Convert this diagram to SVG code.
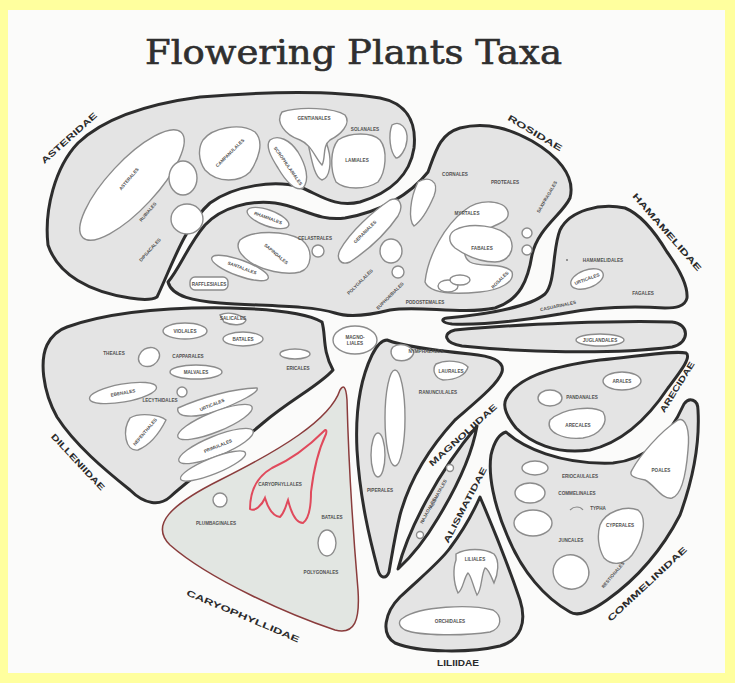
<svg xmlns="http://www.w3.org/2000/svg" width="735" height="683" viewBox="0 0 735 683">
<style>
.outer{fill:#e4e4e4;stroke:#2d2d2d;stroke-width:3;stroke-linejoin:round}
.inner{fill:#ffffff;stroke:#8c8c8c;stroke-width:1.4}
.sub{font-family:"Liberation Sans",Arial,sans-serif;font-weight:bold;font-size:8.5px;fill:#2a2a2a;text-anchor:middle;dominant-baseline:central}
.ord{font-family:"Liberation Sans",Arial,sans-serif;font-weight:bold;font-size:4.6px;fill:#505050;text-anchor:middle;dominant-baseline:central}
.title{font-family:"DejaVu Serif","Liberation Serif",serif;font-size:33px;fill:#2f2f2f;stroke:#2f2f2f;stroke-width:0.6}
</style>
<rect x="0" y="0" width="735" height="683" fill="#ffff9e"/>
<rect x="8" y="10" width="717" height="663" fill="#fbfbfa"/>
<text class="title" x="145" y="64" textLength="417" lengthAdjust="spacingAndGlyphs">Flowering Plants Taxa</text>

<g id="asteridae">
<path class="outer" d="M157,297 C170,270 185,225 210,203 C235,185 275,180 300,187 C320,195 335,208 360,202 C390,193 410,175 414,148 C417,120 405,103 380,98 C330,90 260,92 200,97 C140,105 100,122 78,143 C55,167 44,210 48,245 C58,275 90,292 130,298 C142,300 152,300 157,297 Z"/>
<ellipse class="inner" cx="132" cy="185" rx="72" ry="24" transform="rotate(-47 132 185)"/>
<ellipse class="inner" cx="183" cy="178" rx="14" ry="17"/>
<ellipse class="inner" cx="187" cy="219" rx="16" ry="15"/>
<path class="inner" d="M203,140 C212,128 240,122 255,132 C265,142 258,160 250,172 C240,182 218,184 205,170 C198,160 198,148 203,140 Z"/>
<path class="inner" d="M270,140 C278,134 290,140 298,152 C306,165 310,180 303,188 C295,192 285,180 278,168 C271,157 265,146 270,140 Z"/>
<path class="inner" d="M309,130 C316,126 324,134 328,148 C332,162 330,178 322,180 C315,178 312,162 309,148 C307,140 306,133 309,130 Z"/>
<path class="inner" d="M282,112 C300,106 335,108 345,115 C352,124 340,135 330,140 C322,146 326,158 322,165 C315,158 312,145 300,140 C285,135 275,122 282,112 Z"/>
<path class="inner" d="M338,140 C350,132 372,132 380,140 C388,150 386,172 378,182 C366,190 345,190 336,182 C330,170 330,150 338,140 Z"/>
<path class="inner" d="M392,125 C400,120 408,128 407,140 C406,150 400,158 396,158 C390,152 388,135 392,125 Z"/>
<text class="ord" transform="translate(129,179) rotate(-50)">ASTERALES</text>
<text class="ord" transform="translate(148,212) rotate(-50)">RUBIALES</text>
<text class="ord" transform="translate(150,250) rotate(-48)">DIPSACALES</text>
<text class="ord" transform="translate(230,153) rotate(-45)">CAMPANULALES</text>
<text class="ord" transform="translate(288,166) rotate(55)">SCROPHULARIALES</text>
<text class="ord" transform="translate(314,118)">GENTIANALES</text>
<text class="ord" transform="translate(365,129)">SOLANALES</text>
<text class="ord" transform="translate(357,160)">LAMIALES</text>
<text class="sub" transform="translate(69,138) rotate(-42)" textLength="72" lengthAdjust="spacingAndGlyphs">ASTERIDAE</text>
</g>

<g id="rosidae">
<path class="outer" d="M168,282 C180,268 188,245 205,225 C222,207 250,200 275,203 C300,206 318,222 345,218 C380,212 410,195 428,172 C436,150 440,134 460,128 C488,121 512,130 532,141 C556,155 576,175 570,198 C562,215 538,228 532,255 C528,280 520,300 495,308 C460,315 420,305 390,310 C370,315 350,318 335,313 C310,305 260,306 220,303 C195,301 172,297 168,282 Z"/>
<rect class="inner" x="190" y="277" width="38" height="13" rx="5"/>
<ellipse class="inner" cx="240" cy="268" rx="30" ry="8" transform="rotate(20 240 268)"/>
<ellipse class="inner" cx="268" cy="218" rx="22" ry="8" transform="rotate(20 268 218)"/>
<path class="inner" d="M240,240 C252,230 285,230 302,240 C314,250 312,268 300,272 C285,276 262,270 250,262 C240,255 235,247 240,240 Z"/>
<circle class="inner" cx="318" cy="251" r="6"/>
<path class="inner" d="M340,250 C350,232 372,212 390,200 C400,196 404,206 398,216 C385,235 365,252 350,262 C340,266 336,258 340,250 Z"/>
<ellipse class="inner" cx="391" cy="251" rx="11" ry="12"/>
<circle class="inner" cx="398" cy="272" r="6"/>
<path class="inner" d="M418,182 C428,176 440,180 434,196 C428,210 420,222 414,226 C408,220 410,198 418,182 Z"/>
<path class="inner" d="M425,282 C428,255 445,225 465,210 C480,198 505,200 508,212 C510,222 495,225 480,232 C465,240 460,255 470,262 C480,268 505,262 512,272 C515,282 500,290 480,292 C460,294 430,295 425,282 Z"/>
<path class="inner" d="M455,230 C470,222 500,225 510,238 C516,250 508,262 495,262 C480,262 465,255 455,248 C448,242 448,234 455,230 Z"/>
<ellipse class="inner" cx="448" cy="286" rx="10" ry="6"/>
<ellipse class="inner" cx="460" cy="280" rx="10" ry="5"/>
<circle class="inner" cx="527" cy="233" r="5"/>
<circle class="inner" cx="527" cy="250" r="5"/>
<text class="ord" transform="translate(209,284)">RAFFLESIALES</text>
<text class="ord" transform="translate(242,268) rotate(20)">SANTALALES</text>
<text class="ord" transform="translate(268,218) rotate(20)">RHAMNALES</text>
<text class="ord" transform="translate(276,254) rotate(40)">SAPINDALES</text>
<text class="ord" transform="translate(315,238)">CELASTRALES</text>
<text class="ord" transform="translate(365,232) rotate(-45)">GERANIALES</text>
<text class="ord" transform="translate(360,282) rotate(-45)">POLYGALALES</text>
<text class="ord" transform="translate(390,296) rotate(-45)">EUPHORBIALES</text>
<text class="ord" transform="translate(455,174)">CORNALES</text>
<text class="ord" transform="translate(505,182)">PROTEALES</text>
<text class="ord" transform="translate(467,213)">MYRTALES</text>
<text class="ord" transform="translate(482,248)">FABALES</text>
<text class="ord" transform="translate(425,302)">PODOSTEMALES</text>
<text class="ord" transform="translate(500,280) rotate(-45)">ROSALES</text>
<text class="ord" transform="translate(547,197) rotate(-60)">SAXIFRAGALES</text>
<text class="sub" transform="translate(535,133) rotate(31)" textLength="62" lengthAdjust="spacingAndGlyphs">ROSIDAE</text>
</g>

<g id="hamamelidae">
<path class="outer" d="M447,318 C480,315 528,308 545,294 C556,282 552,250 560,230 C570,210 600,203 625,208 C640,214 655,232 667,252 C680,270 688,285 687,298 C685,307 675,308 665,308 C630,306 590,308 560,314 C520,321 480,325 452,324 C442,323 440,319 447,318 Z"/>
<path class="outer" d="M455,330 C520,324 620,320 672,322 C690,324 690,343 672,347 C610,355 520,352 462,346 C444,343 442,333 455,330 Z"/>
<ellipse class="inner" cx="587" cy="279" rx="17" ry="9" transform="rotate(-20 587 279)"/>
<circle cx="567" cy="260" r="1" fill="#777"/>
<ellipse class="inner" cx="600" cy="340" rx="24" ry="6"/>
<text class="ord" transform="translate(603,260)">HAMAMELIDALES</text>
<text class="ord" transform="translate(587,279) rotate(-20)">URTICALES</text>
<text class="ord" transform="translate(643,293)">FAGALES</text>
<text class="ord" transform="translate(558,306) rotate(-12)">CASUARINALES</text>
<text class="ord" transform="translate(600,340)">JUGLANDALES</text>
<text class="sub" transform="translate(667,232) rotate(49)" textLength="100" lengthAdjust="spacingAndGlyphs">HAMAMELIDAE</text>
</g>

<g id="dilleniidae">
<path class="outer" d="M67,327 C110,312 170,307 230,308 C270,309 305,312 322,322 C326,335 322,350 333,370 C320,385 290,400 263,423 C235,447 200,470 170,497 C160,506 145,505 130,490 C105,470 75,445 57,417 C42,390 40,360 47,345 C52,335 58,330 67,327 Z"/>
<ellipse class="inner" cx="185" cy="331" rx="22" ry="8"/>
<path class="inner" d="M220,315 C228,311 240,314 246,320 C244,326 232,326 224,322 Z"/>
<ellipse class="inner" cx="243" cy="339" rx="20" ry="7"/>
<ellipse class="inner" cx="149" cy="357" rx="11" ry="9" transform="rotate(-30 149 357)"/>
<ellipse class="inner" cx="196" cy="372" rx="26" ry="7"/>
<ellipse class="inner" cx="295" cy="354" rx="15" ry="5"/>
<ellipse class="inner" cx="123" cy="393" rx="34" ry="9" transform="rotate(-10 123 393)"/>
<circle class="inner" cx="182" cy="392" r="5"/>
<path class="inner" d="M178,408 C200,398 235,388 257,388 C260,392 240,402 215,412 C195,418 175,418 178,408 Z"/>
<ellipse class="inner" cx="215" cy="422" rx="40" ry="10" transform="rotate(-22 215 422)"/>
<ellipse class="inner" cx="216" cy="446" rx="40" ry="10" transform="rotate(-22 216 446)"/>
<ellipse class="inner" cx="213" cy="466" rx="35" ry="8" transform="rotate(-22 213 466)"/>
<path class="inner" d="M130,418 C140,412 160,415 166,420 C160,432 150,445 138,450 C125,452 122,430 130,418 Z"/>
<text class="ord" transform="translate(114,353)">THEALES</text>
<text class="ord" transform="translate(185,331)">VIOLALES</text>
<text class="ord" transform="translate(233,318)">SALICALES</text>
<text class="ord" transform="translate(243,339)">BATALES</text>
<text class="ord" transform="translate(188,356)">CAPPARALES</text>
<text class="ord" transform="translate(196,372)">MALVALES</text>
<text class="ord" transform="translate(298,368)">ERICALES</text>
<text class="ord" transform="translate(123,393) rotate(-10)">EBENALES</text>
<text class="ord" transform="translate(160,400)">LECYTHIDALES</text>
<text class="ord" transform="translate(212,405) rotate(-22)">URTICALES</text>
<text class="ord" transform="translate(218,446) rotate(-22)">PRIMULALES</text>
<text class="ord" transform="translate(145,432) rotate(-50)">NEPENTHALES</text>
<text class="sub" transform="translate(78,462) rotate(47)" textLength="74" lengthAdjust="spacingAndGlyphs">DILLENIIDAE</text>
</g>

<g id="hub">
<ellipse class="inner" cx="355" cy="340" rx="22" ry="14"/>
<text class="ord" x="355" y="337">MAGNO-</text>
<text class="ord" x="355" y="343">LIALES</text>
</g>

<g id="caryophyllidae">
<path d="M340,390 C330,420 280,450 220,480 C170,505 150,525 170,545 C210,580 290,615 335,630 C355,635 360,620 358,590 C352,520 348,440 347,400 C346,385 343,385 340,390 Z" fill="#e2e6e2" stroke="#8a3c3c" stroke-width="1.5"/>
<path d="M324,431 C310,445 290,460 272,468 C258,476 250,490 250,509 C255,512 262,505 265,498 C268,508 272,516 280,517 C285,512 286,505 288,500 C291,512 296,523 303,523 C310,518 311,505 311,492 C313,475 316,455 326,434 C327,430 326,429 324,431 Z" fill="none" stroke="#e04a5c" stroke-width="2"/>
<circle class="inner" cx="220" cy="500" r="7"/>
<ellipse class="inner" cx="327" cy="543" rx="9" ry="13"/>
<text class="ord" transform="translate(280,484)">CARYOPHYLLALES</text>
<text class="ord" transform="translate(216,523)">PLUMBAGINALES</text>
<text class="ord" transform="translate(332,517)">BATALES</text>
<text class="ord" transform="translate(321,572)">POLYGONALES</text>
<text class="sub" transform="translate(243,616) rotate(23)" textLength="122" lengthAdjust="spacingAndGlyphs">CARYOPHYLLIDAE</text>
</g>

<g id="magnoliidae">
<path class="outer" d="M387,340 C400,345 430,350 470,354 C490,356 505,360 502,372 C498,384 478,400 455,420 C432,445 410,478 400,515 C395,535 392,555 389,572 C386,580 380,578 378,570 C370,540 360,500 357,450 C355,410 360,380 372,355 C377,345 382,340 387,340 Z"/>
<ellipse class="inner" cx="395" cy="418" rx="10" ry="48"/>
<ellipse class="inner" cx="378" cy="455" rx="7" ry="22"/>
<path class="inner" d="M393,347 C400,342 410,345 414,352 C412,360 404,362 396,360 C390,356 390,350 393,347 Z"/>
<path class="inner" d="M436,364 C446,359 463,361 468,367 C466,375 456,380 443,380 C434,378 432,369 436,364 Z"/>
<text class="ord" transform="translate(426,351)">NYMPHAEALES</text>
<text class="ord" transform="translate(451,371)">LAURALES</text>
<text class="ord" transform="translate(438,392)">RANUNCULALES</text>
<text class="ord" transform="translate(380,490)">PIPERALES</text>
<text class="sub" transform="translate(463,435) rotate(-42)" textLength="88" lengthAdjust="spacingAndGlyphs">MAGNOLIIDAE</text>
</g>

<g id="alismatidae">
<path class="outer" d="M398,569 C408,530 438,472 477,426 C472,455 455,490 438,518 C425,540 410,558 398,569 Z"/>
<circle class="inner" cx="450" cy="468" r="3.5"/>
<circle class="inner" cx="420" cy="535" r="3.5"/>
<text class="ord" transform="translate(428,511) rotate(-62)">NAJADALES</text>
<text class="ord" transform="translate(438,494) rotate(-62)">ALISMATALES</text>
<text class="sub" transform="translate(465,505) rotate(-62.5)" textLength="84" lengthAdjust="spacingAndGlyphs">ALISMATIDAE</text>
</g>

<g id="liliidae">
<path class="outer" d="M480,497 C492,525 507,562 520,600 C527,622 521,640 500,646 C470,653 420,653 395,643 C380,634 385,612 400,597 C420,578 440,562 450,548 C462,532 472,515 480,497 Z"/>
<path class="inner" d="M456,554 C466,548 484,548 494,554 C500,561 498,574 494,583 C491,576 488,568 485,568 C481,575 482,590 477,595 C473,586 471,575 468,573 C464,577 463,590 458,593 C453,582 453,568 456,560 Z"/>
<path class="inner" d="M403,618 C420,606 470,604 493,610 C503,616 502,628 490,632 C465,636 420,636 405,630 C398,626 398,621 403,618 Z"/>
<text class="ord" x="475" y="559">LILIALES</text>
<text class="ord" x="450" y="621">ORCHIDALES</text>
<text class="sub" transform="translate(458,663)" textLength="42" lengthAdjust="spacingAndGlyphs">LILIIDAE</text>
</g>

<g id="arecidae">
<path class="outer" d="M506,399 C515,380 545,367 600,360 C640,356 675,350 686,353 C692,357 680,372 668,388 C650,415 625,442 590,450 C555,455 530,442 516,428 C508,418 502,407 506,399 Z"/>
<ellipse class="inner" cx="622" cy="381" rx="19" ry="9"/>
<ellipse class="inner" cx="550" cy="398" rx="12" ry="8"/>
<path class="inner" d="M550,420 C563,408 593,405 603,412 C609,422 601,435 583,438 C563,440 545,432 550,420 Z"/>
<text class="ord" x="622" y="381">ARALES</text>
<text class="ord" x="582" y="397">PANDANALES</text>
<text class="ord" x="578" y="425">ARECALES</text>
<text class="sub" transform="translate(677,387) rotate(-58)" textLength="58" lengthAdjust="spacingAndGlyphs">ARECIDAE</text>
</g>

<g id="commelinidae">
<path class="outer" d="M506,432 C522,447 560,465 613,463 C645,460 668,440 684,404 C689,397 698,399 698,410 C700,445 692,482 680,515 C662,550 638,578 607,600 C590,612 578,617 570,612 C545,598 522,572 507,535 C494,505 488,475 491,455 C494,442 499,434 506,432 Z"/>
<ellipse class="inner" cx="535" cy="468" rx="13" ry="7"/>
<ellipse class="inner" cx="530" cy="493" rx="15" ry="10"/>
<ellipse class="inner" cx="533" cy="523" rx="19" ry="13"/>
<ellipse class="inner" cx="571" cy="572" rx="18" ry="17" transform="rotate(20 571 572)"/>
<path class="inner" d="M632,470 C640,455 660,432 678,420 C686,417 690,430 688,450 C686,475 682,495 672,498 C662,500 655,485 645,480 C635,478 628,476 632,470 Z"/>
<path class="inner" d="M600,525 C605,512 625,505 638,510 C648,518 643,540 632,555 C624,565 612,566 604,558 C598,548 597,535 600,525 Z"/>
<path d="M570,510 C574,506 580,506 583,510" fill="none" stroke="#8c8c8c" stroke-width="1.2"/>
<text class="ord" x="580" y="476">ERIOCAULALES</text>
<text class="ord" x="577" y="493">COMMELINALES</text>
<text class="ord" x="598" y="508">TYPHA</text>
<text class="ord" x="620" y="525">CYPERALES</text>
<text class="ord" x="571" y="540">JUNCALES</text>
<text class="ord" x="661" y="470">POALES</text>
<text class="ord" transform="translate(613,575) rotate(-50)">RESTIONALES</text>
<text class="sub" transform="translate(647,584) rotate(-43)" textLength="105" lengthAdjust="spacingAndGlyphs">COMMELINIDAE</text>
</g>
<g id="connectors"></g>
</svg>
